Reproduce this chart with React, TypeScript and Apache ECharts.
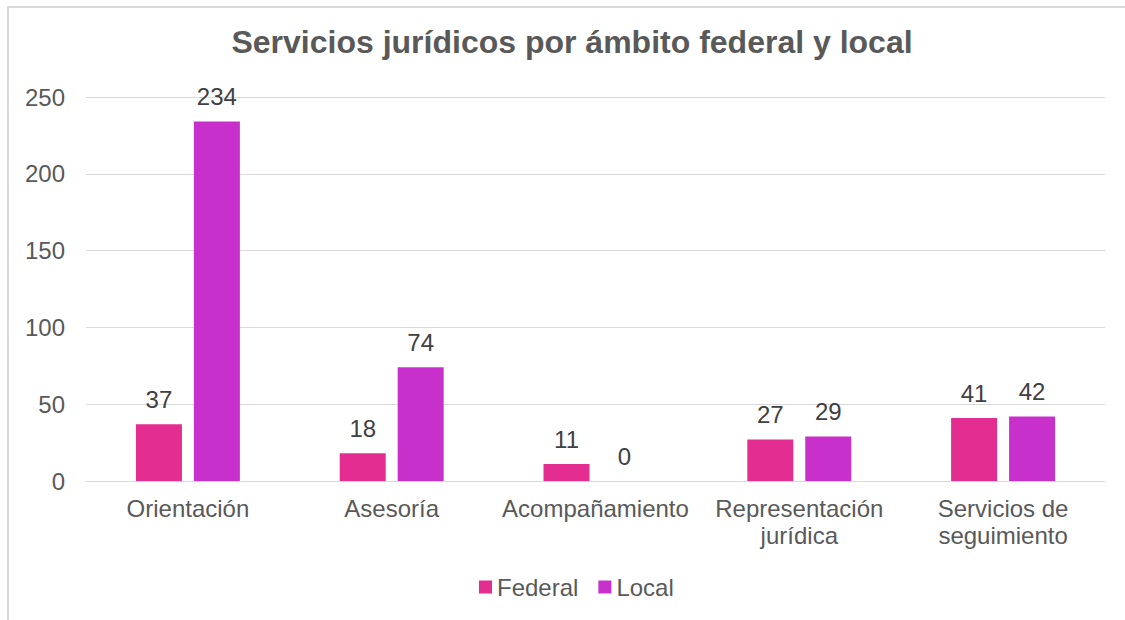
import React, { useEffect, useRef } from "react";
import * as echarts from "echarts";

const categories = ["Orientación", "Asesoría", "Acompañamiento", "Representación jurídica", "Servicios de seguimiento"];
const federalValues = [37, 18, 11, 27, 41];
const localValues = [234, 74, 0, 29, 42];
const seriesNames = ["Federal", "Local"];
const titleText = "Servicios jurídicos por ámbito federal y local";

const FONT = "'Liberation Sans', Arial, sans-serif";

function wrapLabel(v: string): string {
  const i = v.lastIndexOf(" ");
  return i > 0 ? v.slice(0, i) + "\n" + v.slice(i + 1) : v;
}

export default function App() {
  const ref = useRef<HTMLDivElement>(null);
  useEffect(() => {
    if (!ref.current) return;
    const chart = echarts.init(ref.current, undefined, { renderer: "svg" });
    const labelStyle = {
      show: true,
      position: "top" as const,
      distance: 13,
      color: "#404040",
      fontSize: 24,
      fontFamily: FONT,
    };
    chart.setOption({
      animation: false,
      backgroundColor: "#ffffff",
      textStyle: { fontFamily: FONT },
      graphic: [
        {
          type: "rect",
          shape: { x: 8, y: 7, width: 1300, height: 800 },
          style: { fill: "none", stroke: "#D9D9D9", lineWidth: 2 },
          silent: true,
          z: -1,
        },
      ],
      title: {
        text: titleText,
        left: 572,
        textAlign: "center",
        top: 26,
        padding: 0,
        textStyle: { fontSize: 32, fontWeight: "bold", color: "#595959", fontFamily: FONT },
      },
      legend: {
        data: seriesNames,
        left: 479,
        top: 575,
        padding: 0,
        itemWidth: 13,
        itemHeight: 13,
        itemGap: 20,
        icon: "rect",
        textStyle: { fontSize: 24, color: "#595959", fontFamily: FONT },
      },
      grid: { left: 86, right: 20, top: 97, bottom: 139, containLabel: false },
      xAxis: {
        type: "category",
        data: categories,
        axisLine: { lineStyle: { color: "#D9D9D9", width: 1 } },
        axisTick: { show: false },
        axisLabel: {
          formatter: wrapLabel,
          color: "#595959",
          fontSize: 24,
          lineHeight: 27,
          margin: 14,
          interval: 0,
          fontFamily: FONT,
        },
      },
      yAxis: {
        type: "value",
        min: 0,
        max: 250,
        interval: 50,
        axisLine: { show: false },
        axisTick: { show: false },
        splitLine: { lineStyle: { color: "#D9D9D9", width: 1 } },
        axisLabel: { color: "#595959", fontSize: 24, margin: 21, fontFamily: FONT },
      },
      series: [
        {
          name: seriesNames[0],
          type: "bar",
          data: federalValues,
          barWidth: 46,
          barGap: "26%",
          itemStyle: { color: "#E32D91" },
          label: labelStyle,
        },
        {
          name: seriesNames[1],
          type: "bar",
          data: localValues,
          barWidth: 46,
          barGap: "26%",
          itemStyle: { color: "#C830CC" },
          label: labelStyle,
        },
      ],
    });
    return () => chart.dispose();
  }, []);
  return (
    <div
      ref={ref}
      style={{ position: "fixed", left: 0, top: 0, width: 1125, height: 620, background: "#fff" }}
    />
  );
}
